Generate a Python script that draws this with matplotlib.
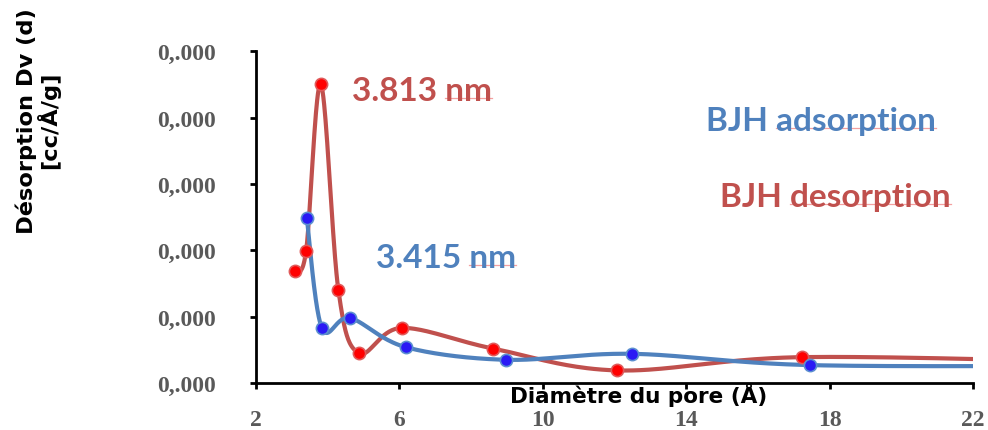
import numpy as np
import matplotlib
matplotlib.use("Agg")
import matplotlib.pyplot as plt
from matplotlib.ticker import FixedLocator, FixedFormatter

# Pore diameter (Å) and differential pore volume, BJH desorption branch
des_x = [3.09, 3.40, 3.81, 4.30, 4.87, 6.06, 8.61, 12.07, 17.23, 26.0]
des_y = [0.00169, 0.00199, 0.00450, 0.00140, 0.00045, 0.00083, 0.00052, 0.00019, 0.00039, 0.00031]

# BJH adsorption branch
ads_x = [3.42, 3.84, 4.62, 6.18, 8.97, 12.49, 17.45, 26.0]
ads_y = [0.00248, 0.00083, 0.00098, 0.00054, 0.00035, 0.00044, 0.00027, 0.00026]

x_ticks = [2, 6, 10, 14, 18, 22]
y_ticks = [0.0, 0.001, 0.002, 0.003, 0.004, 0.005]
y_tick_labels = ["0,.000"] * 6

RED_LINE = "#C0504D"
RED_MARK = "#FF0000"
BLUE_LINE = "#4F81BD"
BLUE_MARK = "#2A1AF5"
SPELL = "#F4A0A0"


def smooth(xs, ys, n=40):
    """Excel-style smoothed line: cubic Bezier segments with 1/6 tangents."""
    p = np.column_stack([xs, ys]).astype(float)
    ext = np.vstack([p[0], p, p[-1]])
    t = np.linspace(0, 1, n)[:, None]
    out = []
    for i in range(1, len(ext) - 2):
        p0, p1, p2, p3 = ext[i - 1], ext[i], ext[i + 1], ext[i + 2]
        c1 = p1 + (p2 - p0) / 6.0
        c2 = p2 - (p3 - p1) / 6.0
        seg = ((1 - t) ** 3) * p1 + 3 * ((1 - t) ** 2) * t * c1 \
            + 3 * (1 - t) * t ** 2 * c2 + t ** 3 * p2
        out.append(seg)
    s = np.vstack(out)
    return s[:, 0], s[:, 1]


fig = plt.figure(figsize=(9.88, 4.31), dpi=100)
ax = fig.add_axes([0.259, 0.109, 0.726, 0.770])

sx, sy = smooth(des_x, des_y)
ax.plot(sx, sy, color=RED_LINE, lw=3, solid_capstyle="round", zorder=2)
ax.plot(des_x, des_y, ls="none", marker="o", ms=8.8, mfc=RED_MARK,
        mec="#E05A5A", mew=1.2, zorder=4)

sx, sy = smooth(ads_x, ads_y)
ax.plot(sx, sy, color=BLUE_LINE, lw=3, solid_capstyle="round", zorder=3)
ax.plot(ads_x, ads_y, ls="none", marker="o", ms=8.8, mfc=BLUE_MARK,
        mec="#5B8FD0", mew=1.2, zorder=5)

ax.set_xlim(2, 22)
ax.set_ylim(0, 0.005)
ax.xaxis.set_major_locator(FixedLocator(x_ticks))
ax.yaxis.set_major_locator(FixedLocator(y_ticks))
ax.yaxis.set_major_formatter(FixedFormatter(y_tick_labels))

for side in ("top", "right"):
    ax.spines[side].set_visible(False)
for side in ("left", "bottom"):
    ax.spines[side].set_linewidth(2)
    ax.spines[side].set_color("black")
ax.tick_params(direction="out", length=4.5, width=2, color="black",
               labelcolor="#595959", labelsize=17)
ax.tick_params(axis="y", pad=24)
ax.tick_params(axis="x", pad=14)
for lab in ax.get_xticklabels() + ax.get_yticklabels():
    lab.set_fontfamily("Liberation Serif")
    lab.set_fontweight("bold")

fig.text(0.646, 1 - 403 / 431, "Diamètre du pore (Å)", ha="center", va="baseline",
         fontsize=15.5, fontweight="bold", family="DejaVu Sans", color="black")
fig.text(0.038, 0.72, "Désorption Dv (d)\n[cc/Å/g]", ha="center", va="center",
         rotation=90, fontsize=16.2, fontweight="bold", family="DejaVu Sans",
         color="black", linespacing=0.95)

lbl = dict(fontweight="bold", family="Lato", fontsize=24, va="center", ha="left")
notes = [
    (352, 92, "3.813 ", "nm", RED_LINE),
    (376, 259, "3.415 ", "nm", BLUE_LINE),
    (706, 122, "BJH ", "adsorption", BLUE_LINE),
    (720, 198, "BJH ", "desorption", RED_LINE),
]
texts = []
for px, py, head, word, col in notes:
    t = fig.text(px / 988, 1 - py / 431, head + word, color=col, **lbl)
    texts.append((t, head, word))

# faint proofing underline beneath the second word of each note
fig.canvas.draw()
r = fig.canvas.get_renderer()
W, H = fig.bbox.width, fig.bbox.height
for t, head, word in texts:
    full = t.get_window_extent(r)
    probe = fig.text(0, 0, head, fontweight="bold", family="Lato", fontsize=24)
    hw = probe.get_window_extent(r).width
    probe.remove()
    ww = fig.text(0, 0, word, fontweight="bold", family="Lato", fontsize=24)
    wlen = ww.get_window_extent(r).width
    ww.remove()
    x0 = full.x0 + hw
    ybase = full.y0 + full.height * 0.27
    fig.add_artist(plt.Line2D([x0 / W, (x0 + wlen) / W], [ybase / H, ybase / H],
                              transform=fig.transFigure, color=SPELL, lw=0.9))

fig.savefig("out.png", dpi=100)
